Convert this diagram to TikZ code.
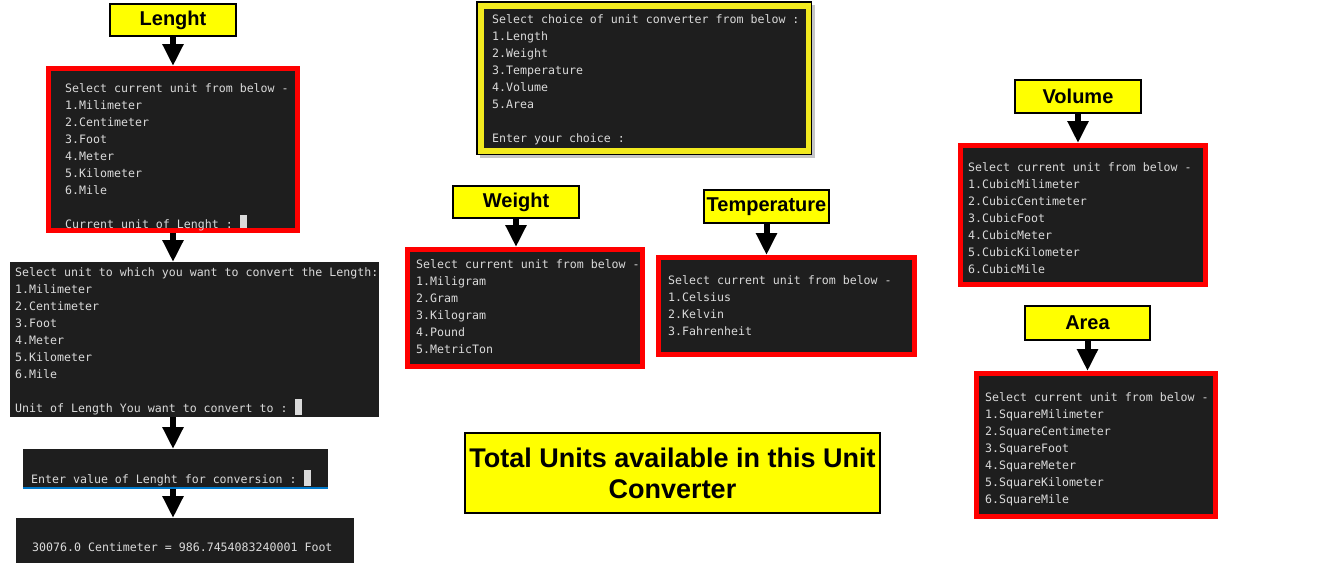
\documentclass[tikz,border=0pt]{standalone}
\usepackage{fontspec}
\setmainfont{Liberation Sans}
\newfontfamily\monof{DejaVu Sans Mono}
\usetikzlibrary{arrows.meta}
\definecolor{termbg}{HTML}{1E1E1E}
\definecolor{termfg}{HTML}{DADADA}
\definecolor{redb}{HTML}{FF0000}
\definecolor{yel}{HTML}{FFFF00}
\definecolor{menuyel}{HTML}{F2EA1F}
\definecolor{vsblue}{HTML}{007ACC}
\newcommand\tlines[4]{\foreach \t [count=\i] in {#4} {\node[mono] (#1-\i) at (#2,{#3+17*(\i-1)}) {\t};}}
\begin{document}
\begin{tikzpicture}[x=1pt,y=-1pt,
 lab/.style={draw=black, line width=2pt, fill=yel, inner sep=0pt, font=\fontsize{20}{24}\selectfont\bfseries},
 redpanel/.style={draw=redb, line width=5pt, fill=termbg, inner sep=0pt, anchor=north west},
 plainpanel/.style={fill=termbg, inner sep=0pt, outer sep=0pt, anchor=north west},
 mono/.style={text=termfg, font=\fontsize{11.6}{17}\selectfont\monof, inner sep=0pt, anchor=base west},
 cursor/.style={fill=termfg, inner sep=0pt, minimum width=7pt, minimum height=16pt, anchor=south west},
 arr/.style={line width=6pt, -{Triangle[width=20pt,length=22pt]}}
]
\fill[white] (0,0) rectangle (1336,574);
\useasboundingbox (0,0) rectangle (1336,574);

% ---------- Length column ----------
\node[lab, minimum width=126pt, minimum height=32pt] (lenght) at (173,20) {Lenght};
\node[redpanel, minimum width=249pt, minimum height=162pt] (l1) at (46,66) {};
\tlines{la}{65}{92}{Select current unit from below -,1.Milimeter,2.Centimeter,3.Foot,4.Meter,5.Kilometer,6.Mile}
\node[mono] (la-last) at (65,228) {Current unit of Lenght :};
\node[cursor, minimum height=13pt] (la-cur) at ([xshift=7pt]la-last.base east) {};

\node[plainpanel, minimum width=369pt, minimum height=155pt] (l2) at (10,262) {};
\tlines{lb}{15}{276}{Select unit to which you want to convert the Length:,1.Milimeter,2.Centimeter,3.Foot,4.Meter,5.Kilometer,6.Mile}
\node[mono] (lb-last) at (15,412) {Unit of Length You want to convert to :};
\node[cursor] (lb-cur) at ([xshift=7pt,yshift=-3pt]lb-last.base east) {};

\node[plainpanel, minimum width=305pt, minimum height=40pt] (l3) at (23,449) {};
\fill[vsblue] (l3.south west) rectangle ([yshift=2.5pt]l3.south east);
\node[mono] (lc-1) at (31,483) {Enter value of Lenght for conversion :};
\node[cursor] (lc-cur) at ([xshift=7pt,yshift=-3pt]lc-1.base east) {};

\node[plainpanel, minimum width=338pt, minimum height=45pt] (l4) at (16,518) {};
\node[mono] (ld-1) at (32,551) {30076.0 Centimeter = 986.7454083240001 Foot};

% ---------- Main menu ----------
\fill[gray!45] (480,5) rectangle (815,158);
\node[draw=black, line width=1.5pt, fill=menuyel, anchor=north west, inner sep=0pt, outer sep=0pt,
      minimum width=334.5pt, minimum height=152.5pt] (menu) at (476.75,1.75) {};
\node[plainpanel, minimum width=322pt, minimum height=139pt] (menuin) at (484,9) {};
\tlines{mm}{492}{23}{Select choice of unit converter from below :,1.Length,2.Weight,3.Temperature,4.Volume,5.Area}
\node[mono] (mm-last) at (492,142) {Enter your choice :};

% ---------- Weight ----------
\node[lab, minimum width=126pt, minimum height=32pt] (weight) at (516,202) {Weight};
\node[redpanel, minimum width=235pt, minimum height=117pt] (w) at (405,247) {};
\tlines{wt}{416}{268}{Select current unit from below -,1.Miligram,2.Gram,3.Kilogram,4.Pound,5.MetricTon}

% ---------- Temperature ----------
\node[lab, minimum width=125pt, minimum height=33pt] (temp) at (766.5,206.5) {Temperature};
\node[redpanel, minimum width=256pt, minimum height=97pt] (t) at (656,255) {};
\tlines{tp}{668}{284}{Select current unit from below -,1.Celsius,2.Kelvin,3.Fahrenheit}

% ---------- Volume ----------
\node[lab, minimum width=126pt, minimum height=33pt] (volume) at (1078,96.5) {Volume};
\node[redpanel, minimum width=245pt, minimum height=139pt] (v) at (958,143) {};
\tlines{vo}{968}{171}{Select current unit from below -,1.CubicMilimeter,2.CubicCentimeter,3.CubicFoot,4.CubicMeter,5.CubicKilometer,6.CubicMile}

% ---------- Area ----------
\node[lab, minimum width=125pt, minimum height=34pt] (area) at (1087.5,323) {Area};
\node[redpanel, minimum width=239pt, minimum height=143pt] (a) at (974,371) {};
\tlines{ar}{985}{401}{Select current unit from below -,1.SquareMilimeter,2.SquareCentimeter,3.SquareFoot,4.SquareMeter,5.SquareKilometer,6.SquareMile}

% ---------- Total ----------
\node[lab, minimum width=415pt, minimum height=80pt, align=center,
      font=\fontsize{27}{31}\selectfont\bfseries] (total) at (672.5,473)
      {Total Units available in this Unit\\Converter};

% ---------- Arrows ----------
\draw[arr] (lenght.south) -- (lenght.south |- l1.north);
\draw[arr] (l1.south) -- (l1.south |- l2.north);
\draw[arr] (l1.south |- l2.south) -- (l1.south |- l3.north);
\draw[arr] (l1.south |- l3.south) -- (l1.south |- l4.north);
\draw[arr] (weight.south) -- (weight.south |- w.north);
\draw[arr] (temp.south) -- (temp.south |- t.north);
\draw[arr] (volume.south) -- (volume.south |- v.north);
\draw[arr] (area.south) -- (area.south |- a.north);
\end{tikzpicture}
\end{document}
